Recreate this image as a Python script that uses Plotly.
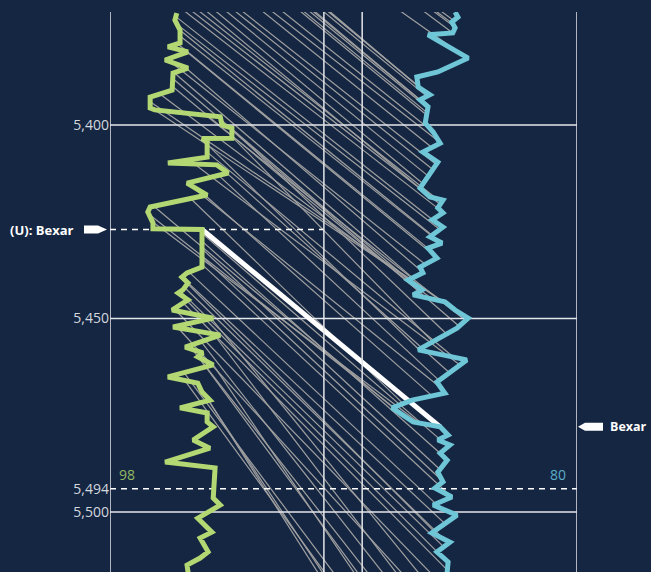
import numpy as np
import plotly.graph_objects as go

# ---------------- data ----------------
# Left well log (green), depth (ft) vs track value (0-100 track units)
green_depth = [5371.1, 5372.9, 5375.5, 5378.8, 5379.8, 5381.1, 5383.2, 5385.3, 5386.6, 5391.0,
               5392.8, 5395.6, 5396.1, 5397.9, 5400.0, 5400.8, 5403.4, 5403.5, 5404.4, 5408.3,
               5409.8, 5410.3, 5412.4, 5415.0, 5418.1, 5421.2, 5422.5, 5425.3, 5426.8, 5427.0,
               5436.7, 5438.2, 5439.3, 5440.8, 5442.6, 5443.4, 5445.2, 5447.8, 5449.9, 5452.2,
               5454.3, 5457.4, 5458.9, 5459.9, 5462.0, 5465.1, 5466.7, 5469.0, 5471.1, 5473.1,
               5474.4, 5476.7, 5478.0, 5481.4, 5483.5, 5487.1, 5488.6, 5496.4, 5498.2, 5500.0,
               5501.6, 5505.2, 5506.7, 5510.3, 5511.9, 5513.7, 5515.5, 5518.0]
green_value = [14.3, 13.9, 15.0, 15.0, 12.4, 16.7, 11.8, 16.7, 13.5, 13.3,
               8.6, 8.6, 9.6, 23.6, 24.0, 26.1, 26.1, 19.7, 20.8, 20.8,
               12.4, 22.9, 25.3, 16.5, 20.8, 8.6, 8.1, 9.2, 9.2, 19.7,
               19.7, 16.5, 15.4, 16.7, 15.6, 14.6, 16.7, 13.3, 22.1, 13.5,
               23.6, 16.1, 19.9, 18.8, 22.1, 12.4, 18.8, 19.7, 21.4, 15.0,
               20.8, 20.8, 22.1, 17.8, 21.4, 11.8, 22.5, 22.1, 23.6, 21.0,
               18.8, 21.8, 19.3, 21.0, 19.3, 16.5, 16.7, 17.0]

# Right well log (cyan)
cyan_depth = [5370.8, 5372.1, 5373.4, 5374.9, 5376.2, 5376.7, 5382.7, 5386.3, 5387.6, 5390.2,
              5392.2, 5393.5, 5395.3, 5399.5, 5401.8, 5404.7, 5407.0, 5409.6, 5416.3, 5418.6,
              5419.4, 5421.4, 5422.7, 5424.5, 5426.4, 5428.9, 5430.5, 5431.8, 5434.4, 5436.7,
              5438.2, 5440.1, 5441.9, 5442.6, 5443.9, 5445.7, 5447.8, 5449.9, 5452.5, 5458.1,
              5460.7, 5466.4, 5469.3, 5471.1, 5473.1, 5476.7, 5478.0, 5480.1, 5481.4, 5482.7,
              5484.8, 5486.6, 5489.7, 5492.2, 5493.8, 5496.1, 5498.2, 5500.8, 5505.4, 5507.8,
              5510.3, 5512.9, 5515.5, 5520.0]
cyan_value = [73.9, 74.5, 73.2, 73.9, 73.4, 68.1, 76.7, 70.2, 65.7, 66.0,
              68.5, 66.4, 68.1, 67.5, 69.2, 70.7, 67.0, 70.2, 66.4, 68.5,
              71.3, 70.2, 71.3, 69.0, 71.3, 68.5, 71.1, 68.1, 70.0, 66.4,
              67.0, 63.8, 66.0, 66.8, 64.9, 71.7, 73.9, 76.7, 74.3, 66.0,
              76.4, 70.0, 71.7, 64.7, 60.4, 64.9, 70.7, 72.4, 70.2, 72.8,
              70.7, 72.2, 70.2, 71.3, 69.6, 73.2, 69.2, 74.3, 68.9, 72.8,
              70.0, 72.4, 72.2, 71.0]

# Correlation ties: depth on left log -> depth on right log
tie_left = [5315.4, 5320.2, 5320.9, 5321.7, 5323.1, 5329.7, 5337.2, 5337.8, 5338.5, 5339.6,
            5340.7, 5341.5, 5342.6, 5343.7, 5344.4, 5348.8, 5351.4, 5352.8, 5357.2, 5358.5,
            5360.2, 5362.2, 5364.2, 5366.0, 5367.5, 5369.0,
            5372.0, 5374.0, 5375.5, 5377.0, 5379.0, 5381.0, 5383.0, 5385.0, 5386.5, 5388.0,
            5390.0, 5392.0, 5394.0, 5396.0, 5397.5, 5399.0, 5401.0, 5403.0, 5405.0, 5407.0,
            5409.0, 5411.0, 5413.0, 5415.0, 5417.0, 5419.0, 5421.0, 5423.0, 5425.0,
            5428.0, 5430.0, 5432.0, 5434.0, 5436.0, 5438.0, 5440.0, 5441.0, 5442.0, 5443.0,
            5444.0, 5446.0, 5448.0, 5450.0, 5452.0, 5454.0, 5456.0, 5458.0, 5460.0, 5462.0,
            5464.0, 5466.0, 5468.0, 5470.0]
tie_right = [5368.6, 5373.0, 5373.8, 5374.6, 5376.2, 5382.8, 5390.0, 5390.8, 5391.5, 5392.6,
             5393.8, 5394.4, 5395.6, 5396.8, 5397.4, 5401.8, 5404.4, 5405.8, 5410.2, 5411.5,
             5413.2, 5415.2, 5417.2, 5419.0, 5420.5, 5422.0,
             5425.0, 5427.0, 5428.5, 5430.0, 5432.0, 5434.0, 5436.0, 5438.0, 5439.5, 5441.0,
             5443.0, 5445.0, 5447.0, 5449.0, 5450.5, 5452.0, 5454.0, 5456.0, 5458.0, 5460.0,
             5462.0, 5464.0, 5466.0, 5468.0, 5470.0, 5472.0, 5474.0, 5475.5, 5477.0,
             5482.0, 5485.0, 5489.0, 5492.0, 5496.0, 5499.0, 5503.0, 5505.0, 5507.0, 5509.0,
             5511.0, 5515.0, 5519.0, 5523.0, 5527.0, 5531.0, 5535.0, 5540.0, 5545.0, 5549.0,
             5553.0, 5557.0, 5562.0, 5566.0]

# Bexar horizon (left depth, right depth)
bexar_left = 5427.0
bexar_right = 5478.0
bexar_labels = ["(U): Bexar", "Bexar"]

grid_depths = [5400, 5450, 5500]
tick_vals = [5400, 5450, 5494, 5500]
tick_text = ["5,400", "5,450", "5,494", "5,500"]
marker_depth = 5494
track_edges = [0, 45.8, 54.0, 100]
scale_labels = ["98", "80"]
depth_range = [5515.5, 5370.8]

# ---------------- styles ----------------
BG = "#152642"
GREEN = "#b3d873"
CYAN = "#6ec6d6"
GREY = "#a0a0a0"
LINEC = "#e4e6ea"
FONT = "Open Sans"

fig = go.Figure()

# correlation lines
xs, ys = [], []
for dl, dr in zip(tie_left, tie_right):
    xs += [float(np.interp(dl, green_depth, green_value)), float(np.interp(dr, cyan_depth, cyan_value)), None]
    ys += [dl, dr, None]
fig.add_trace(go.Scatter(x=xs, y=ys, mode="lines", line=dict(color=GREY, width=1.2),
                         hoverinfo="skip", showlegend=False))

# horizontal grid lines
for d in grid_depths:
    fig.add_trace(go.Scatter(x=[track_edges[0], track_edges[-1]], y=[d, d], mode="lines",
                             line=dict(color=LINEC, width=1.5), hoverinfo="skip", showlegend=False))
# dashed marker lines
fig.add_trace(go.Scatter(x=[track_edges[0], track_edges[-1]], y=[marker_depth, marker_depth], mode="lines",
                         line=dict(color="white", width=1.5, dash="6px,5px"), hoverinfo="skip", showlegend=False))
fig.add_trace(go.Scatter(x=[track_edges[0], track_edges[1]], y=[bexar_left, bexar_left], mode="lines",
                         line=dict(color="white", width=1.5, dash="6px,5px"), hoverinfo="skip", showlegend=False))

# Bexar correlation line
bx = [float(np.interp(bexar_left, green_depth, green_value)), float(np.interp(bexar_right, cyan_depth, cyan_value))]
fig.add_trace(go.Scatter(x=bx, y=[bexar_left, bexar_right], mode="lines",
                         line=dict(color="white", width=5), hoverinfo="skip", showlegend=False))

# logs
fig.add_trace(go.Scatter(x=green_value, y=green_depth, mode="lines",
                         line=dict(color=GREEN, width=5), showlegend=False))
fig.add_trace(go.Scatter(x=cyan_value, y=cyan_depth, mode="lines",
                         line=dict(color=CYAN, width=5), showlegend=False))

# vertical track lines
for xe in track_edges:
    fig.add_shape(type="line", xref="x", yref="paper", x0=xe, x1=xe, y0=0, y1=1,
                  line=dict(color=LINEC, width=1.5), layer="above")

# Bexar arrows
fig.add_shape(type="path", xref="paper", yref="y", xsizemode="pixel", ysizemode="pixel",
              xanchor=0, yanchor=bexar_left,
              path="M -26,-4 L -12,-4 L -3,0 L -12,4 L -26,4 Z",
              fillcolor="white", line=dict(width=0), layer="above")
fig.add_shape(type="path", xref="paper", yref="y", xsizemode="pixel", ysizemode="pixel",
              xanchor=1, yanchor=bexar_right,
              path="M 1,0 L 8,-4 L 26,-4 L 26,4 L 8,4 Z",
              fillcolor="white", line=dict(width=0), layer="above")

fig.add_annotation(xref="paper", yref="y", x=0, y=bexar_left, xanchor="right", xshift=-34,
                   text="<b>" + bexar_labels[0] + "</b>", showarrow=False,
                   font=dict(family=FONT, size=13, color="white"))
fig.add_annotation(xref="paper", yref="y", x=1, y=bexar_right, xanchor="left", xshift=31,
                   text="<b>" + bexar_labels[1] + "</b>", showarrow=False,
                   font=dict(family=FONT, size=12.5, color="white"))

# scale labels
fig.add_annotation(xref="paper", yref="y", x=0, y=marker_depth, xanchor="left", yanchor="bottom",
                   xshift=7, yshift=3, text=scale_labels[0], showarrow=False,
                   font=dict(family=FONT, size=14, color="#93b862"))
fig.add_annotation(xref="paper", yref="y", x=1, y=marker_depth, xanchor="right", yanchor="bottom",
                   xshift=-9, yshift=3, text=scale_labels[1], showarrow=False,
                   font=dict(family=FONT, size=14, color="#5aaec6"))

fig.update_layout(
    width=651, height=572,
    margin=dict(l=110, r=74, t=12, b=0, pad=0),
    paper_bgcolor=BG, plot_bgcolor=BG,
    showlegend=False,
    font=dict(family=FONT, color="#d3d7de"),
)
fig.update_xaxes(range=[track_edges[0], track_edges[-1]], visible=False, showgrid=False, zeroline=False)
fig.update_yaxes(range=depth_range, tickvals=tick_vals, ticktext=tick_text, showgrid=False,
                 zeroline=False, showline=False, ticks="", ticklabelstandoff=0,
                 tickfont=dict(size=14, color="#d3d7de", family=FONT))

fig.write_html("out.html", config={"displayModeBar": False})

# remove the default page margin so the figure fills the window
with open("out.html", "r", encoding="utf-8") as fh:
    html = fh.read()
html = html.replace("<head>", "<head><style>html,body{margin:0;padding:0;background:%s;overflow:hidden;}</style>" % BG, 1)
with open("out.html", "w", encoding="utf-8") as fh:
    fh.write(html)
